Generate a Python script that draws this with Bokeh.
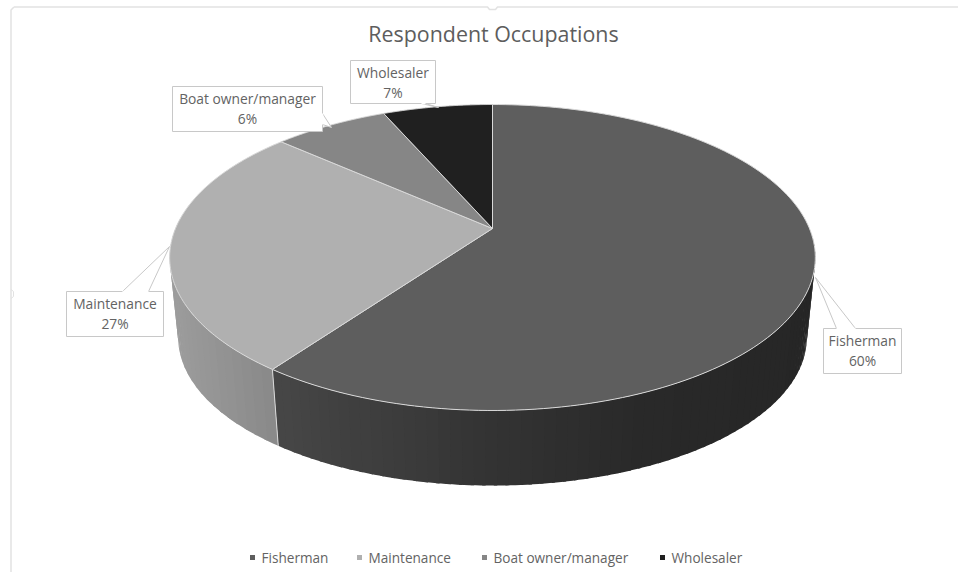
import numpy as np
from bokeh.plotting import figure
from bokeh.embed import file_html
from bokeh.resources import INLINE
from bokeh.models import Range1d
from bokeh.core.properties import value

title = "Respondent Occupations"
categories = ["Fisherman", "Maintenance", "Boat owner/manager", "Wholesaler"]
shares = [60, 26.5, 6.9, 6.6]
share_labels = ["60%", "27%", "6%", "7%"]
top_colors = ["#5e5e5e", "#b0b0b0", "#868686", "#202020"]
text_color = "#636363"
edge = "#d9d9d9"

W, H = 958, 572
p = figure(width=W, height=H, x_range=Range1d(0, W), y_range=Range1d(H, 0),
           output_backend="svg", toolbar_location=None, min_border=0,
           outline_line_color=None, background_fill_color="white")
p.axis.visible = False
p.grid.visible = False

CX, CY, A, B, C = 492.0, 228.0, 317.0, 147.5, 0.1895
A2, B2, CY2 = 308.6, 142.7, 309.0

def top(th):
    u, v = np.sin(th), np.cos(th)
    d = 1 + C * v
    return CX + A * u / d, CY - B * v / d

def bottom(th):
    u, v = np.sin(th), np.cos(th)
    d = 1 + C * v
    return CX + A2 * u / d, CY2 - B2 * v / d

fr = np.cumsum([0] + shares) / sum(shares)
ang = fr * 2 * np.pi   # clockwise from 12 o'clock

def lerp(c0, c1, t):
    return "#%02x%02x%02x" % tuple(int(round(a + (b - a) * t)) for a, b in zip(c0, c1))

def side(t0, t1, stops, n):
    ts = np.linspace(t0, t1, n + 1)
    step = (t1 - t0) / n
    for i in range(n):
        end = min(ts[i + 1] + step * 0.3, t1) if step > 0 else ts[i + 1]
        tq = np.linspace(ts[i], end, 4)
        tx, ty = top(tq)
        bx, by = bottom(tq)
        xp = tx.mean()
        col = stops[-1][1] if xp > stops[-1][0] else stops[0][1]
        for (x0, c0), (x1, c1) in zip(stops, stops[1:]):
            if x0 <= xp <= x1:
                col = lerp(c0, c1, (xp - x0) / (x1 - x0))
                break
        p.patch(list(tx) + list(bx[::-1]), list(ty) + list(by[::-1]), fill_color=col,
                line_color=None)

# side wall of the Fisherman slice, then the Maintenance slice
side(np.pi * 0.52, ang[1], [(278, (0x46, 0x46, 0x46)), (492, (0x33, 0x33, 0x33)),
                            (640, (0x29, 0x29, 0x29)), (820, (0x26, 0x26, 0x26))], 70)
side(ang[1], 2 * np.pi * 0.76, [(170, (0x9c, 0x9c, 0x9c)), (278, (0x88, 0x88, 0x88))], 24)
bx, by = top(ang[1]), bottom(ang[1])
p.line([bx[0], by[0]], [bx[1], by[1]], line_color=edge, line_width=1)

# top face
for i, c in enumerate(top_colors):
    th = np.linspace(ang[i], ang[i + 1], 160)
    x, y = top(th)
    xs = [CX] + list(x)
    ys = [CY] + list(y)
    p.patch(xs, ys, fill_color=c, line_color=edge, line_width=1)

# chart frame with its selection notches
frame = "#e2e2e2"
p.line([10.5, 10.5, 13.5], [H, 9.5, 6.5], line_color=frame, line_width=1.5)
p.line([13.5, 487, 489, 495, 497, W], [6.5, 6.5, 9, 9, 6.5, 6.5], line_color=frame, line_width=1.5)
p.line([10.5, 13, 13, 10.5], [289, 291, 296, 298], line_color=frame, line_width=1)

# title
p.text([493], [33], text=[title], text_font=value("Open Sans"), text_font_size="21.4px",
       text_color="#5d5d5d", text_align="center", text_baseline="middle")

# callouts
boxes = [
    (823, 328, 901, 373, [(836, 328), (815, 277), (855, 328)]),
    (66, 291, 163, 336, [(122, 291), (169, 246), (148, 291)]),
    (172, 86, 322, 131, [(322, 113), (331, 127), (322, 124)]),
    (350, 60, 435, 103, [(421, 103), (438, 107), (425, 103)]),
]
for (x0, y0, x1, y1, ptr), name, lab in zip(boxes, categories, share_labels):
    px = [q[0] for q in ptr]
    py = [q[1] for q in ptr]
    p.patch(px, py, fill_color="white", line_color="#c8c8c8", line_width=1)
    p.quad(left=[x0], right=[x1], top=[y0], bottom=[y1], fill_color="white",
           line_color="#c8c8c8", line_width=1)
    p.line([px[0], px[-1]], [py[0], py[-1]], line_color="white", line_width=1.5)
    xm = (x0 + x1) / 2
    p.text([xm], [y0 + 12], text=[name], text_font=value("Open Sans"),
           text_font_size="13.8px", text_color=text_color, text_align="center",
           text_baseline="middle")
    p.text([xm], [y0 + 31.5], text=[lab], text_font=value("Open Sans"),
           text_font_size="13.8px", text_color=text_color, text_align="center",
           text_baseline="middle")

# legend
for lx, name, c in zip([252, 359, 484, 662], categories, top_colors):
    p.scatter([lx], [557], marker="square", size=5, fill_color=c, line_color=None)
    p.text([lx + 9], [557], text=[name], text_font=value("Open Sans"), text_font_size="13.6px",
           text_color=text_color, text_align="left", text_baseline="middle")

open("out.html", "w").write(file_html(p, INLINE))
